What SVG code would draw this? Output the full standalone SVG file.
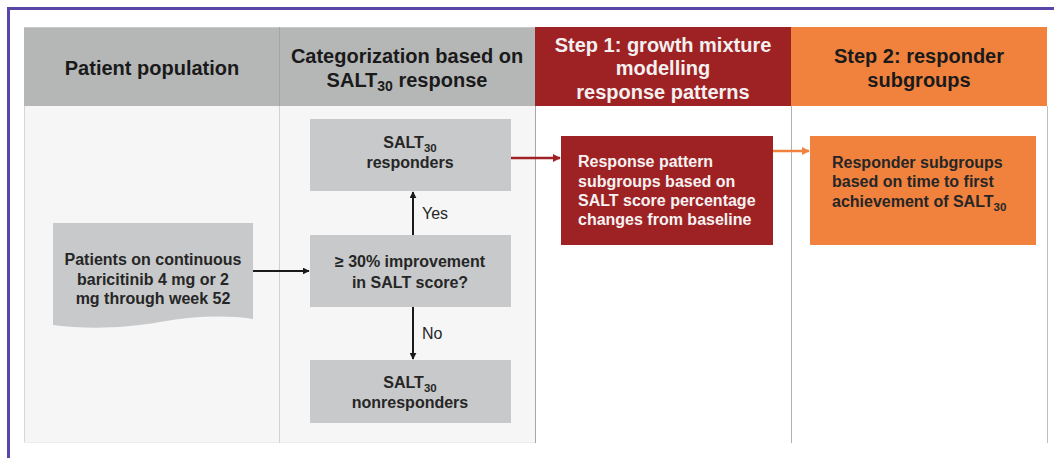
<svg xmlns="http://www.w3.org/2000/svg" width="1054" height="458" viewBox="0 0 1054 458">
  <style>
    .hdr{font-family:"Liberation Sans",Arial,sans-serif;font-weight:bold;font-size:20px;text-anchor:middle}
    .body{font-family:"Liberation Sans",Arial,sans-serif;font-weight:bold;font-size:16px;fill:#262626}
    .mid{text-anchor:middle}
    .lbl{font-family:"Liberation Sans",Arial,sans-serif;font-size:16px;fill:#262626}
    .node{fill:#c8c9ca}
    .sub{font-size:11.5px}
  </style>
  <defs>
    <marker id="ahK" viewBox="0 0 10 10" refX="9" refY="5" markerWidth="7" markerHeight="7" markerUnits="userSpaceOnUse" orient="auto"><path d="M0,0 L10,5 L0,10 Z" fill="#1a1a1a"/></marker>
    <marker id="ahR" viewBox="0 0 10 10" refX="9" refY="5" markerWidth="8" markerHeight="8" markerUnits="userSpaceOnUse" orient="auto"><path d="M0,0 L10,5 L0,10 Z" fill="#9e2226"/></marker>
    <marker id="ahO" viewBox="0 0 10 10" refX="9" refY="5" markerWidth="8" markerHeight="8" markerUnits="userSpaceOnUse" orient="auto"><path d="M0,0 L10,5 L0,10 Z" fill="#f0823e"/></marker>
  </defs>
  <rect width="1054" height="458" fill="#ffffff"/>
  <!-- outer frame -->
  <path d="M8.5,458 V8.5 H1054" fill="none" stroke="#5a46a6" stroke-width="3"/>
  <!-- table background -->
  <g id="table">
    <rect x="24" y="106" width="511" height="337" fill="#f6f6f6"/>
    <line x1="24.5" y1="106" x2="24.5" y2="443" stroke="#d6d6d6"/>
    <line x1="24" y1="442.5" x2="535" y2="442.5" stroke="#ececec"/>
    <line x1="279.5" y1="106" x2="279.5" y2="443" stroke="#d2d2d2"/>
    <line x1="535.5" y1="106" x2="535.5" y2="443" stroke="#a8a8a8"/>
    <line x1="791.5" y1="106" x2="791.5" y2="443" stroke="#b0b0b0"/>
    <line x1="1047.5" y1="106" x2="1047.5" y2="443" stroke="#c0c0c0"/>
    <rect x="24" y="27" width="511" height="79" fill="#b5b7b7"/>
    <line x1="24" y1="27.5" x2="535" y2="27.5" stroke="#c9cbcb"/>
    <line x1="279.5" y1="27" x2="279.5" y2="106" stroke="#a4a6a6"/>
    <rect x="535" y="27" width="256" height="79" fill="#9e2224"/>
    <rect x="791" y="27" width="256" height="79" fill="#f0823e"/>
    <text class="hdr" x="152" y="75" fill="#1a1a1a">Patient population</text>
    <text class="hdr" x="407" y="63" fill="#1a1a1a">Categorization based on</text>
    <text class="hdr" x="407" y="87" fill="#1a1a1a">SALT<tspan font-size="14px" dy="4">30</tspan><tspan dy="-4"> response</tspan></text>
    <text class="hdr" x="663" y="52" fill="#f4f0f0">Step 1: growth mixture</text>
    <text class="hdr" x="663" y="75" fill="#f4f0f0">modelling</text>
    <text class="hdr" x="663" y="99" fill="#f4f0f0">response patterns</text>
    <text class="hdr" x="919" y="63" fill="#1a1a1a">Step 2: responder</text>
    <text class="hdr" x="919" y="87" fill="#1a1a1a">subgroups</text>
  </g>
  <g id="connectors">
    <line x1="253" y1="271" x2="309" y2="271" stroke="#1a1a1a" stroke-width="2" marker-end="url(#ahK)"/>
    <line x1="413" y1="235" x2="413" y2="192" stroke="#1a1a1a" stroke-width="2" marker-end="url(#ahK)"/>
    <line x1="413" y1="307" x2="413" y2="359" stroke="#1a1a1a" stroke-width="2" marker-end="url(#ahK)"/>
    <line x1="511" y1="158" x2="560" y2="158" stroke="#9e2226" stroke-width="2.5" marker-end="url(#ahR)"/>
    <line x1="773" y1="151" x2="809" y2="151" stroke="#f0823e" stroke-width="2.5" marker-end="url(#ahO)"/>
    <text class="lbl" x="422" y="219">Yes</text>
    <text class="lbl" x="422" y="339">No</text>
  </g>
  <g id="patients">
    <path class="node" d="M53,223 H253 V319 C225,315 195,316 160,322 C120,329 85,329 53,325 Z"/>
    <text class="body mid" x="153" y="265">Patients on continuous</text>
    <text class="body mid" x="153" y="285">baricitinib 4 mg or 2</text>
    <text class="body mid" x="153" y="304">mg through week 52</text>
  </g>
  <g id="responders">
    <rect class="node" x="310" y="119" width="201" height="72"/>
    <text class="body mid" x="410" y="148">SALT<tspan class="sub" dy="4">30</tspan></text>
    <text class="body mid" x="410" y="168">responders</text>
  </g>
  <g id="improvement">
    <rect class="node" x="310" y="235" width="201" height="72"/>
    <text class="body mid" x="410" y="267">≥ 30% improvement</text>
    <text class="body mid" x="410" y="288">in SALT score?</text>
  </g>
  <g id="nonresponders">
    <rect class="node" x="310" y="360" width="201" height="63"/>
    <text class="body mid" x="410" y="388">SALT<tspan class="sub" dy="4">30</tspan></text>
    <text class="body mid" x="410" y="408">nonresponders</text>
  </g>
  <g id="pattern">
    <rect x="561" y="136" width="212" height="109" fill="#9e2224"/>
    <text class="body" x="578" y="167" fill="#f6f2f2" style="fill:#f6f2f2">Response pattern</text>
    <text class="body" x="578" y="187" style="fill:#f6f2f2">subgroups based on</text>
    <text class="body" x="578" y="206" style="fill:#f6f2f2">SALT score percentage</text>
    <text class="body" x="578" y="225" style="fill:#f6f2f2">changes from baseline</text>
  </g>
  <g id="subgroups">
    <rect x="810" y="136" width="226" height="109" fill="#f0823e"/>
    <text class="body" x="832" y="168">Responder subgroups</text>
    <text class="body" x="832" y="187">based on time to first</text>
    <text class="body" x="832" y="207">achievement of SALT<tspan class="sub" dy="4">30</tspan></text>
  </g>
</svg>
